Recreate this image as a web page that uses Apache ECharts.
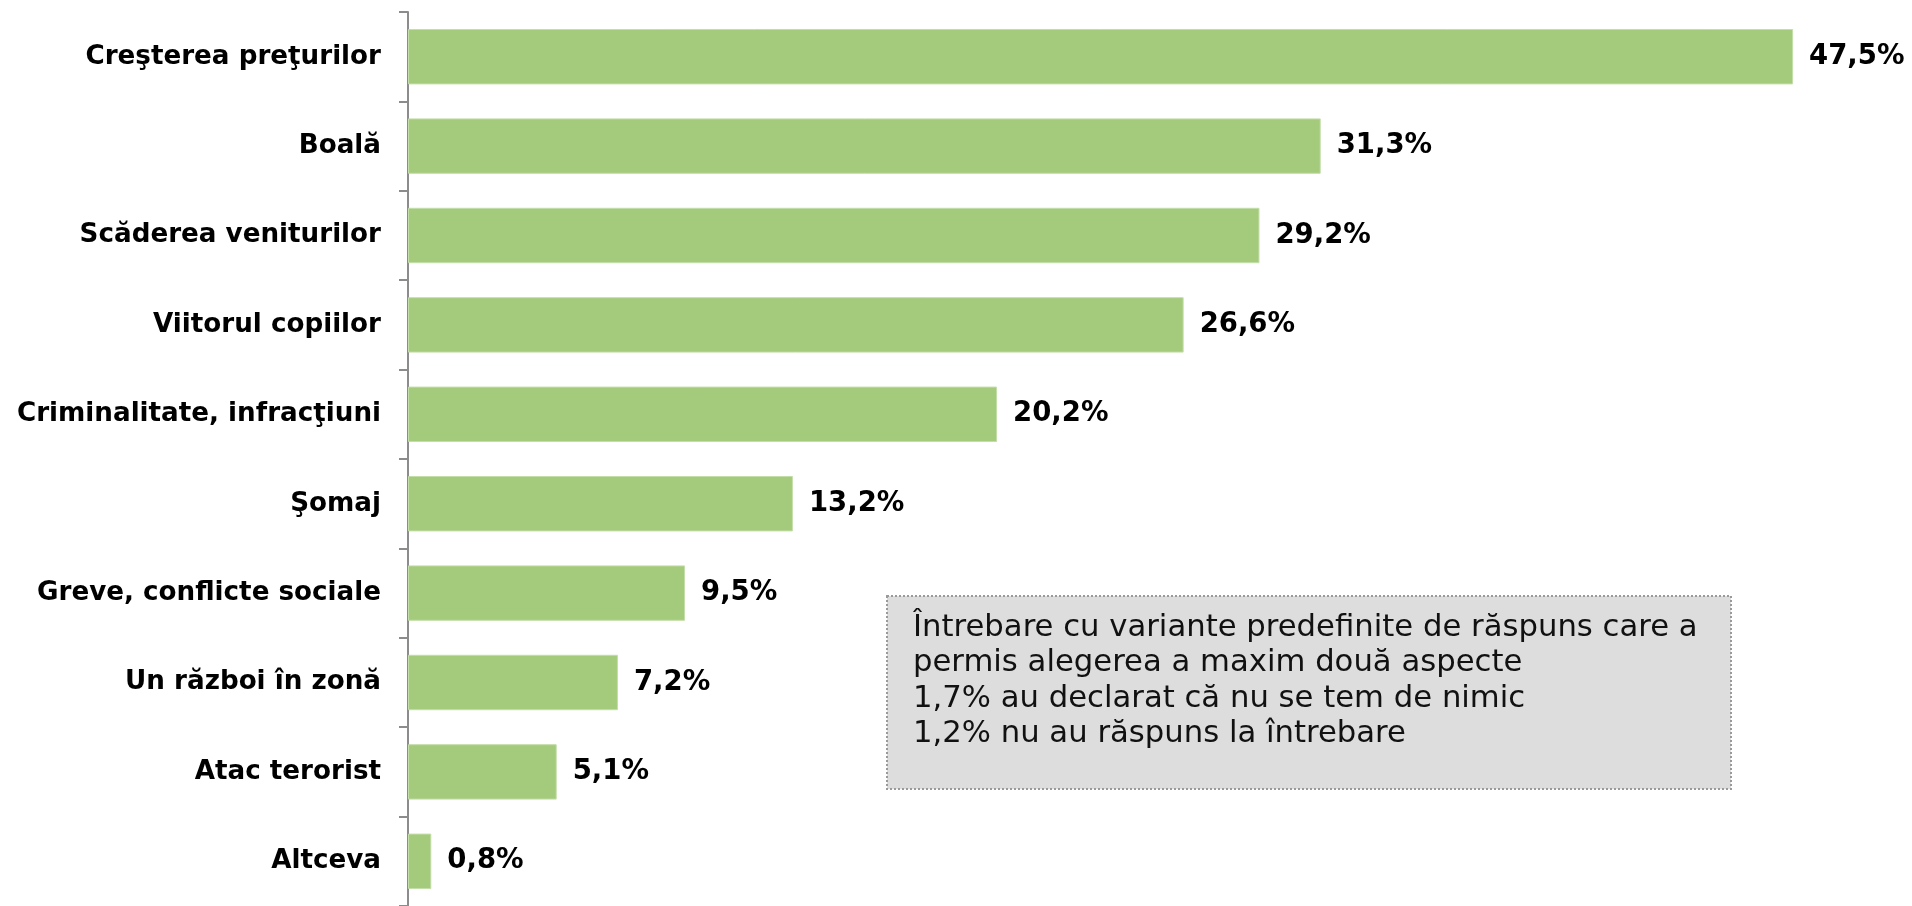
<!DOCTYPE html>
<html>
<head>
<meta charset="utf-8">
<script src="https://cdn.jsdelivr.net/npm/echarts@6/dist/echarts.min.js"></script>
<style>
  html, body { margin: 0; padding: 0; background: #fff; }
  #chart { width: 1912px; height: 906px; }
</style>
</head>
<body>
<div id="chart"></div>
<script>
// categorii, de sus in jos
var categories = ['Creşterea preţurilor', 'Boală', 'Scăderea veniturilor', 'Viitorul copiilor',
  'Criminalitate, infracţiuni', 'Şomaj', 'Greve, conflicte sociale', 'Un război în zonă',
  'Atac terorist', 'Altceva'];
var values = [47.5, 31.3, 29.2, 26.6, 20.2, 13.2, 9.5, 7.2, 5.1, 0.8];
var noteLines = [
  'Întrebare cu variante predefinite de răspuns care a',
  'permis alegerea a maxim două aspecte',
  '1,7% au declarat că nu se tem de nimic',
  '1,2% nu au răspuns la întrebare'
];

var chart = echarts.init(document.getElementById('chart'));
var option = {
  animation: false,
  grid: { left: 408, top: 12, width: 1458, height: 900 },
  xAxis: {
    type: 'value', min: 0, max: 50,
    show: false
  },
  yAxis: {
    type: 'category',
    inverse: true,
    data: categories,
    axisLine: { show: true, lineStyle: { color: '#8c8c8c', width: 2 } },
    axisTick: { show: true, length: 9, lineStyle: { color: '#8c8c8c', width: 2 } },
    axisLabel: {
      margin: 27,
      color: '#000',
      fontFamily: 'DejaVu Sans',
      fontWeight: 'bold',
      fontSize: 26.2
    }
  },
  series: [{
    type: 'bar',
    data: values,
    barCategoryGap: '38%',
    itemStyle: { color: '#a4cb7c', borderColor: '#c4deaa', borderWidth: 1 },
    label: {
      show: true,
      position: 'right',
      distance: 16,
      color: '#000',
      fontFamily: 'DejaVu Sans',
      fontWeight: 'bold',
      fontSize: 27.5,
      formatter: function (p) { return p.value.toFixed(1).replace('.', ',') + '%'; }
    }
  }],
  graphic: [{
    type: 'group',
    left: 886, top: 595,
    children: [{
      type: 'rect',
      shape: { x: 0, y: 0, width: 844, height: 193 },
      style: { fill: '#dddddd', stroke: '#9a9a9a', lineWidth: 2, lineDash: [2, 2] }
    }, {
      type: 'text',
      x: 26, y: 14,
      style: {
        text: noteLines.join('\n'),
        fill: '#111',
        font: '30.7px "DejaVu Sans"',
        lineHeight: 35.5
      }
    }]
  }]
};
chart.setOption(option);
</script>
</body>
</html>
